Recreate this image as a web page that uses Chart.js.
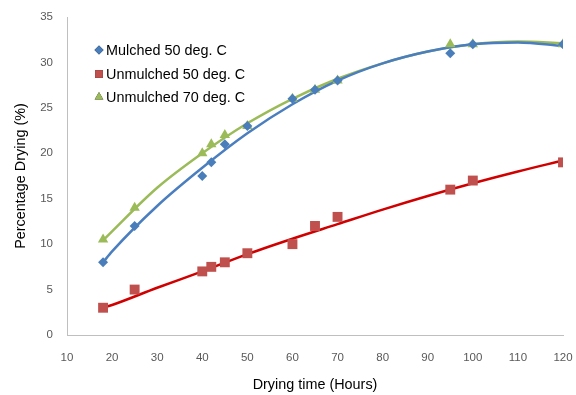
<!DOCTYPE html>
<html lang="en">
<head>
  <meta charset="UTF-8">
  <title>Percentage Drying vs Drying time</title>
  <script src="https://cdn.jsdelivr.net/npm/chart.js"></script>
  <style>
    html, body { margin: 0; padding: 0; background: #fff; }
    .chart-box { width: 576px; height: 395px; position: relative; }
  </style>
</head>
<body>
<div class="chart-box">
  <canvas id="dryingChart"></canvas>
</div>
<script>
// measured points
const hours = [18, 25, 40, 42, 45, 50, 60, 65, 70, 95, 100, 120];
const mulched50 = [8, 12, 17.5, 19, 21, 23, 26, 27, 28, 31, 32, 32];
const unmulched50 = [3, 5, 7, 7.5, 8, 9, 10, 12, 13, 16, 17, 19];
const unmulched70 = [10.5, 14, 20, 21, 22, 23, 26, 27, 28, 32, 32, 32];

// trendlines
const trendHours = [18, 20, 30, 40, 50, 60, 70, 80, 90, 100, 110, 120];
const trendMulched50 = [8.0, 9.2, 14.2, 18.4, 22.2, 25.4, 28.0, 29.9, 31.2, 32.0, 32.2, 31.8];
const trendUnmulched50 = [3.0, 3.3, 5.2, 7.0, 8.9, 10.6, 12.2, 13.8, 15.3, 16.7, 18.0, 19.2];
const trendUnmulched70 = [10.4, 11.4, 16.2, 20.0, 23.3, 26.0, 28.2, 29.9, 31.2, 32.0, 32.3, 32.1];

const xTicks = [10, 20, 30, 40, 50, 60, 70, 80, 90, 100, 110, 120];
const yTicks = [0, 5, 10, 15, 20, 25, 30, 35];

const seriesNames = ["Mulched 50 deg. C", "Unmulched 50 deg. C", "Unmulched 70 deg. C"];
const markerColors = ["#4a7ebb", "#c0504d", "#9bbb59"];
const lineColors = ["#4a7ebf", "#d00000", "#9bbb59"];
const markerStyles = ["rectRot", "rect", "triangle"];
const markerSizes = [5, 7, 6];

const pts = (xs, ys) => xs.map((x, i) => ({ x: x, y: ys[i] }));

const font = "'Liberation Sans', Arial, sans-serif";

const scatterSets = [mulched50, unmulched50, unmulched70].map((ys, i) => ({
  label: seriesNames[i],
  data: pts(hours, ys),
  showLine: false,
  pointStyle: markerStyles[i],
  pointRadius: markerSizes[i],
  backgroundColor: markerColors[i],
  borderColor: markerColors[i],
  borderWidth: 0
}));

const trendSets = [trendMulched50, trendUnmulched50, trendUnmulched70].map((ys, i) => ({
  label: seriesNames[i] + " trend",
  data: pts(trendHours, ys),
  showLine: true,
  pointRadius: 0,
  borderColor: lineColors[i],
  borderWidth: 2.5,
  cubicInterpolationMode: "monotone",
  fill: false
}));

// legend drawn inside the plot, top-left
const insideLegend = {
  id: "insideLegend",
  afterDraw(chart) {
    const ctx = chart.ctx;
    const rows = [50, 74, 97];
    const sizes = [4.5, 5.5, 5];
    ctx.save();
    seriesNames.forEach((name, i) => {
      Chart.helpers.drawPoint(ctx, {
        pointStyle: markerStyles[i],
        radius: sizes[i],
        rotation: 0,
        borderWidth: 0
      }, 99, rows[i]);
      ctx.fillStyle = markerColors[i];
      ctx.fill();
      ctx.fillStyle = "#000";
      ctx.font = "14.4px " + font;
      ctx.textBaseline = "middle";
      ctx.textAlign = "left";
      ctx.fillText(name, 106, rows[i] + 1);
    });
    ctx.restore();
  }
};

new Chart(document.getElementById("dryingChart"), {
  type: "scatter",
  data: { datasets: scatterSets.concat(trendSets) },
  options: {
    responsive: true,
    maintainAspectRatio: false,
    animation: false,
    layout: { padding: { top: 17, right: 13, left: 0, bottom: 0 } },
    plugins: {
      legend: { display: false },
      tooltip: { enabled: false }
    },
    scales: {
      x: {
        type: "linear",
        min: 10,
        max: 120,
        afterBuildTicks: axis => { axis.ticks = xTicks.map(v => ({ value: v })); },
        afterFit: axis => { axis.height = 60; axis.paddingLeft = 0; axis.paddingRight = 0; },
        grid: { display: false, drawTicks: false },
        border: { color: "#bfbfbf", width: 1 },
        ticks: { color: "#595959", font: { family: font, size: 11.5 }, padding: 16, maxRotation: 0 },
        title: { display: true, text: "Drying time (Hours)", color: "#000", font: { family: font, size: 14.4 }, padding: { top: 0, bottom: 1 } }
      },
      y: {
        type: "linear",
        min: 0,
        max: 35,
        afterBuildTicks: axis => { axis.ticks = yTicks.map(v => ({ value: v })); },
        afterFit: axis => { axis.width = 67; axis.paddingTop = 0; axis.paddingBottom = 0; },
        grid: { display: false, drawTicks: false },
        border: { color: "#bfbfbf", width: 1 },
        ticks: { color: "#595959", font: { family: font, size: 11.5 }, padding: 14 },
        title: { display: true, text: "Percentage Drying (%)", color: "#000", font: { family: font, size: 14.4 }, padding: { top: 12, bottom: 0 } }
      }
    }
  },
  plugins: [insideLegend]
});
</script>
</body>
</html>
